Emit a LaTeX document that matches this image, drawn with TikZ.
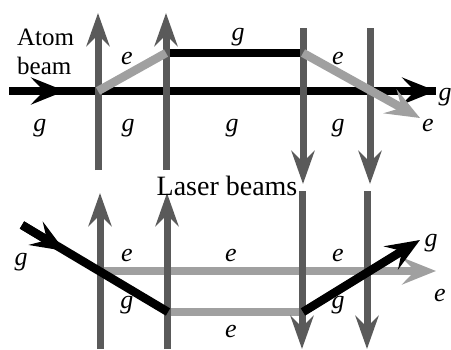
\documentclass[tikz,border=0pt]{standalone}
\usepackage{fontspec}
\setmainfont{Liberation Serif}
\usetikzlibrary{arrows.meta, positioning}
\definecolor{laser}{RGB}{90, 90, 90}
\definecolor{excited}{RGB}{160, 160, 160}
\tikzset{
  laserbeam/.style={draw=laser, line width=7pt, -{Stealth[length=33pt, width=23pt, inset=11pt]}},
  groundbeam/.style={draw=black, line width=8.5pt},
  excitedbeam/.style={draw=excited, line width=8.5pt},
  groundtip/.style={groundbeam, -{Stealth[length=34pt, width=27pt, inset=13pt]}},
  excitedtip/.style={excitedbeam, -{Stealth[length=34pt, width=27pt, inset=13pt]}},
  state/.style={inner sep=0pt, font=\fontsize{26}{26}\selectfont\itshape},
  title/.style={inner sep=0pt, font=\fontsize{25}{29}\selectfont, align=left}
}

\begin{document}
\begin{tikzpicture}[x=1pt, y=-1pt]
  \useasboundingbox (0,0) rectangle (451,349);

  % upper panel: end points
  \coordinate (atomin) at (9,91);
  \coordinate (atommid) at (65,91);
  \coordinate (atomout) at (436,91);
  \coordinate (up1) at (98,91);
  \coordinate (up2) at (166,53);
  \coordinate (up3) at (303,53);
  \coordinate (upout) at (420,118);
  \coordinate (la1) at (98,170);
  \coordinate (lb1) at (98,13);
  \coordinate (la2) at (166,170);
  \coordinate (lb2) at (166,13);
  \coordinate (la3) at (303,28);
  \coordinate (lb3) at (303,184);
  \coordinate (la4) at (370,28);
  \coordinate (lb4) at (370,184);

  \draw[groundbeam] (atomin) -- (atomout);
  \draw[groundtip] (atomin) -- (atommid);
  \draw[groundtip] (atommid) -- (atomout);
  \draw[groundbeam] (up2) -- (up3);
  \foreach \i in {1,...,4}
    \draw[laserbeam] (la\i) -- (lb\i);
  \draw[excitedbeam] (up1) -- (up2);
  \draw[excitedtip] (up3) -- (upout);

  % lower panel: end points
  \coordinate (lowin) at (22,225);
  \coordinate (lowmid) at (65,251);
  \coordinate (low1) at (100,271);
  \coordinate (low2) at (168,312);
  \coordinate (low3) at (303,312);
  \coordinate (lowout) at (420,240);
  \coordinate (excout) at (436,271);
  \coordinate (lc1) at (100,349);
  \coordinate (ld1) at (100,193);
  \coordinate (lc2) at (167,349);
  \coordinate (ld2) at (167,193);
  \coordinate (lc3) at (302,191);
  \coordinate (ld3) at (302,349);
  \coordinate (lc4) at (367,191);
  \coordinate (ld4) at (367,349);

  \draw[excitedtip] (low1) -- (excout);
  \draw[excitedbeam] (low2) -- (low3);
  \foreach \i in {1,...,4}
    \draw[laserbeam] (lc\i) -- (ld\i);
  \draw[groundbeam] (lowin) -- (low2);
  \draw[groundtip] (lowin) -- (lowmid);
  \draw[groundtip] (low3) -- (lowout);

  \node[title, anchor=west] (atom) at (17,52) {Atom\\beam};
  \node[title, font=\fontsize{28}{28}\selectfont] (lasers) at (227,186) {Laser beams};

  \node[state] (ta) at (40,128) {g};
  \node[state] (tb) at (128,128) {g};
  \node[state] (tc) at (232,128) {g};
  \node[state] (td) at (338,128) {g};
  \node[state] (te) at (238,37) {g};
  \node[state] (tf) at (127,58) {e};
  \node[state] (tg) at (338,58) {e};
  \node[state] (th) at (445,97) {g};
  \node[state] (ti) at (428,125) {e};
  \node[state] (ba) at (21,262) {g};
  \node[state] (bb) at (127,255) {e};
  \node[state] (bc) at (127,305) {g};
  \node[state] (bd) at (231,255) {e};
  \node[state] (be) at (231,331) {e};
  \node[state] (bf) at (338,255) {e};
  \node[state] (bg) at (338,305) {g};
  \node[state] (bh) at (431,243) {g};
  \node[state] (bi) at (440,295) {e};
\end{tikzpicture}
\end{document}
